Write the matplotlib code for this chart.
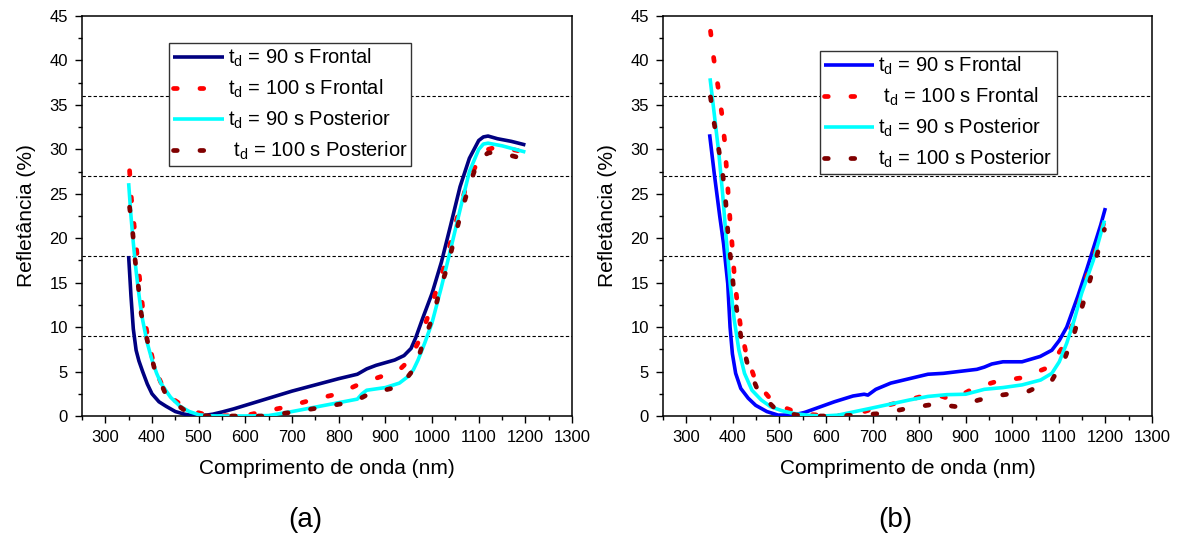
import numpy as np
import matplotlib
matplotlib.use("Agg")
import matplotlib.pyplot as plt
from matplotlib.ticker import MultipleLocator

plt.rcParams['font.family'] = ['Liberation Sans', 'DejaVu Sans']
plt.rcParams['mathtext.fontset'] = 'custom'
plt.rcParams['mathtext.rm'] = 'Liberation Sans'
plt.rcParams['mathtext.it'] = 'Liberation Sans:italic'

# ---- data ----
labels_a = [r'$\mathrm{t_d}$ = 90 s Frontal', r'$\mathrm{t_d}$ = 100 s Frontal',
            r'$\mathrm{t_d}$ = 90 s Posterior', r' $\mathrm{t_d}$ = 100 s Posterior']
labels_b = [r'$\mathrm{t_d}$ = 90 s Frontal', r' $\mathrm{t_d}$ = 100 s Frontal',
            r'$\mathrm{t_d}$ = 90 s Posterior', r'$\mathrm{t_d}$ = 100 s Posterior']
guide_levels = [9, 18, 27, 36]

# panel (a)
a_f90_x = [350, 355, 360, 366, 372, 380, 390, 400, 415, 430, 450, 470, 490, 510, 530, 550, 575, 600,
           650, 700, 750, 800, 840, 850, 860, 880, 900, 920, 940, 955, 965, 980, 1000, 1020, 1040,
           1060, 1080, 1100, 1110, 1120, 1140, 1170, 1200]
a_f90_y = [18.0, 13.5, 9.8, 7.4, 6.2, 5.0, 3.6, 2.5, 1.6, 1.1, 0.5, 0.2, 0.05, 0.05, 0.2, 0.45, 0.8, 1.2,
           2.0, 2.8, 3.5, 4.2, 4.7, 5.0, 5.3, 5.7, 6.0, 6.3, 6.8, 7.6, 8.8, 11.0, 13.8, 17.3, 21.5,
           25.8, 29.0, 31.0, 31.4, 31.5, 31.2, 30.9, 30.5]
a_f100_x = [352, 356, 362, 368, 374, 380, 391, 405, 423, 445, 465, 490, 515, 545, 573, 600, 630, 686,
            742, 799, 849, 900, 930, 952, 976, 995, 1012, 1030, 1044, 1059, 1075, 1100, 1120, 1141,
            1170, 1200]
a_f100_y = [27.6, 24.4, 21.3, 18.2, 15.2, 12.2, 8.9, 5.5, 3.3, 1.9, 1.2, 0.5, 0.15, 0.05, 0.0, 0.05,
            0.4, 1.0, 1.8, 2.5, 3.7, 4.6, 5.2, 6.3, 8.9, 11.8, 14.6, 17.4, 20.5, 23.2, 26.2, 28.8,
            30.0, 30.3, 30.0, 29.7]
a_p90_x = [350, 355, 360, 365, 370, 375, 380, 390, 400, 410, 420, 440, 460, 480, 500, 520, 560, 600,
           650, 700, 750, 800, 840, 850, 860, 900, 930, 950, 960, 970, 985, 1000, 1020, 1040, 1060,
           1080, 1100, 1110, 1120, 1150, 1200]
a_p90_y = [26.2, 22.5, 19.5, 16.8, 14.5, 12.5, 10.8, 8.2, 6.3, 4.8, 3.6, 2.1, 1.1, 0.5, 0.15, 0.02,
           0.0, 0.0, 0.05, 0.5, 1.0, 1.5, 1.9, 2.5, 2.9, 3.2, 3.7, 4.5, 5.2, 6.3, 8.3, 10.5, 14.5,
           18.8, 23.2, 27.5, 30.0, 30.6, 30.7, 30.4, 29.7]
a_p100_x = [352, 359, 364, 371, 377, 390, 405, 429, 450, 471, 495, 521, 580, 638, 697, 755, 809, 840,
            865, 921, 945, 964, 982, 1002, 1017, 1034, 1048, 1063, 1079, 1099, 1120, 1141, 1170, 1199]
a_p100_y = [23.5, 20.5, 17.5, 14.5, 11.5, 8.5, 5.4, 2.5, 1.4, 0.6, 0.15, 0.0, 0.0, 0.0, 0.4, 0.9,
            1.4, 1.8, 2.5, 3.2, 4.2, 5.5, 8.4, 11.2, 14.2, 17.0, 20.0, 23.0, 25.8, 28.8, 29.6, 29.7,
            29.3, 28.9]

# panel (b)
b_f90_x = [350, 360, 372, 380, 389, 394, 399, 406, 417, 433, 449, 473, 497, 529, 554, 586, 618, 658,
           682, 690, 707, 739, 779, 819, 852, 900, 924, 940, 956, 980, 1021, 1060, 1085, 1101, 1117,
           1141, 1160, 1175, 1190, 1200]
b_f90_y = [31.7, 27.3, 22.4, 19.4, 14.9, 10.0, 7.0, 4.8, 3.1, 2.0, 1.2, 0.5, 0.1, 0.1, 0.4, 1.0,
           1.6, 2.25, 2.45, 2.35, 3.0, 3.7, 4.2, 4.7, 4.8, 5.1, 5.25, 5.5, 5.85, 6.1, 6.1, 6.7, 7.4,
           8.5, 10.0, 13.5, 16.5, 19.0, 21.5, 23.4]
b_f100_x = [352, 359, 368, 376, 382, 386, 390, 394, 399, 403, 409, 417, 429, 449, 489, 542, 602, 658,
            707, 763, 819, 850, 872, 916, 967, 1021, 1079, 1109, 1129, 1145, 1162, 1182, 1200]
b_f100_y = [43.3, 40.2, 37.1, 34.1, 31.1, 28.1, 25.0, 22.0, 18.9, 15.9, 12.9, 9.9, 6.9, 3.9, 1.4,
            0.3, 0.0, 0.1, 0.9, 1.6, 2.4, 2.2, 1.8, 3.1, 3.9, 4.3, 5.5, 7.8, 10.2, 13.0, 16.0, 19.0,
            22.4]
b_p90_x = [351, 360, 370, 378, 386, 395, 403, 413, 425, 441, 461, 481, 505, 529, 562, 594, 626, 658,
           690, 739, 779, 819, 859, 900, 940, 980, 1021, 1061, 1085, 1101, 1117, 1133, 1149, 1174,
           1198]
b_p90_y = [38.0, 34.0, 29.5, 25.0, 19.8, 14.5, 10.8, 7.4, 4.8, 2.9, 1.8, 1.05, 0.6, 0.3, 0.08, 0.0,
           0.1, 0.45, 0.8, 1.35, 1.8, 2.2, 2.4, 2.45, 3.0, 3.2, 3.5, 4.05, 4.8, 6.1, 8.2, 10.8, 13.8,
           17.5, 22.0]
b_p100_x = [352, 360, 370, 379, 385, 389, 395, 401, 409, 418, 433, 455, 497, 550, 610, 666, 723, 779,
            835, 880, 928, 976, 1033, 1085, 1113, 1133, 1149, 1166, 1182, 1198]
b_p100_y = [35.9, 32.9, 29.9, 26.9, 23.9, 20.9, 17.8, 14.7, 11.7, 8.7, 5.5, 2.7, 0.5, 0.0, 0.0, 0.1,
            0.3, 0.9, 1.35, 1.05, 1.8, 2.35, 2.75, 4.0, 6.5, 9.3, 12.1, 15.1, 18.1, 21.0]

dots = (0, (0.8, 4.8))

fig = plt.figure(figsize=(11.81, 5.39), dpi=100)
ax_a = fig.add_axes([0.0694, 0.2282, 0.415, 0.742])
ax_b = fig.add_axes([0.5614, 0.2282, 0.414, 0.742])


def draw(ax, series, colors, labels, leg_pos, tag, tag_x):
    for lvl in guide_levels:
        ax.axhline(lvl, color='black', lw=0.8, ls=(0, (3, 2)), zorder=1)
    for (x, y), c, lab, solid in zip(series, colors, labels, [True, False, True, False]):
        if solid:
            ax.plot(x, y, color=c, lw=2.6, label=lab, zorder=3, solid_capstyle='butt')
        else:
            ax.plot(x, y, color=c, lw=3.4, ls=dots, dash_capstyle='round', label=lab, zorder=3)
    ax.set_xlim(250, 1300)
    ax.set_ylim(0, 45)
    ax.xaxis.set_major_locator(MultipleLocator(100))
    ax.xaxis.set_minor_locator(MultipleLocator(50))
    ax.yaxis.set_major_locator(MultipleLocator(5))
    ax.yaxis.set_minor_locator(MultipleLocator(2.5))
    ax.tick_params(which='major', direction='out', length=5, width=1, labelsize=12, pad=5)
    ax.tick_params(which='minor', direction='out', length=3, width=1)
    for sp in ax.spines.values():
        sp.set_linewidth(1.1)
    ax.set_xlabel('Comprimento de onda (nm)', fontsize=15, labelpad=10)
    ax.set_ylabel('Refletância (%)', fontsize=15, labelpad=10)
    leg = ax.legend(loc='upper left', bbox_to_anchor=leg_pos, borderaxespad=0, fontsize=14.5,
                    frameon=True, fancybox=False, framealpha=1, edgecolor='#333333',
                    handlelength=2.5, handletextpad=0.2, labelspacing=0.43, borderpad=0.2)
    leg.get_frame().set_linewidth(1.0)
    fig.text(tag_x, 0.035, tag, fontsize=20, ha='center', va='center')


draw(ax_a, [(a_f90_x, a_f90_y), (a_f100_x, a_f100_y), (a_p90_x, a_p90_y), (a_p100_x, a_p100_y)],
     ['#000080', '#ff0000', '#00ffff', '#800000'], labels_a, (0.178, 0.9325), '(a)', 305 / 1181)
draw(ax_b, [(b_f90_x, b_f90_y), (b_f100_x, b_f100_y), (b_p90_x, b_p90_y), (b_p100_x, b_p100_y)],
     ['#0000ff', '#ff0000', '#00ffff', '#800000'], labels_b, (0.321, 0.9125), '(b)', 895 / 1181)

fig.savefig('out.png', dpi=100)
